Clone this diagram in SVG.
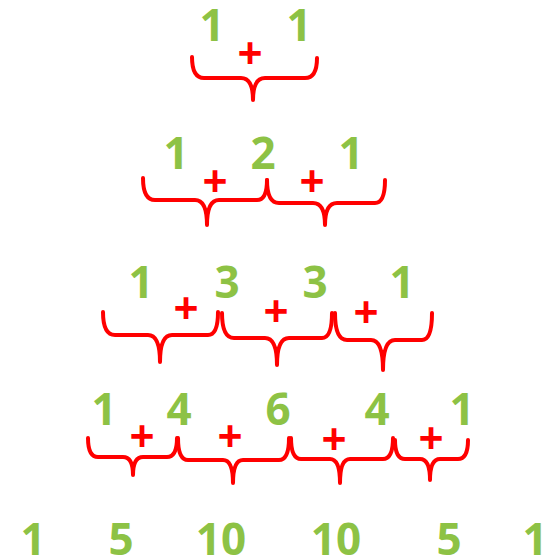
<svg xmlns="http://www.w3.org/2000/svg" width="557" height="558" viewBox="0 0 557 558">
<style>
.n{font-family:"Open Sans","Liberation Sans",sans-serif;font-weight:bold;font-size:44px;fill:#8DC245;text-anchor:middle}
.p{font-family:"Open Sans","Liberation Sans",sans-serif;font-weight:bold;font-size:44px;fill:#FF0000;text-anchor:middle}
.b{fill:none;stroke:#FF0000;stroke-width:4;stroke-linecap:round;stroke-linejoin:round}
</style>
<rect width="557" height="558" fill="#FFFFFF"/>
<g id="row1">
<text class="n" x="212" y="41">1</text>
<text class="n" x="299" y="41">1</text>
<text class="p" x="250" y="69">+</text>
</g>
<g id="row2">
<text class="n" x="176" y="169">1</text>
<text class="n" x="263" y="169">2</text>
<text class="n" x="351" y="169">1</text>
<text class="p" x="215" y="197">+</text>
<text class="p" x="312" y="197">+</text>
</g>
<g id="row3">
<text class="n" x="141" y="298">1</text>
<text class="n" x="227" y="298">3</text>
<text class="n" x="315" y="298">3</text>
<text class="n" x="402" y="298">1</text>
<text class="p" x="186" y="324">+</text>
<text class="p" x="276" y="327">+</text>
<text class="p" x="366" y="328">+</text>
</g>
<g id="row4">
<text class="n" x="104" y="425">1</text>
<text class="n" x="179" y="425">4</text>
<text class="n" x="278" y="425">6</text>
<text class="n" x="377" y="425">4</text>
<text class="n" x="462" y="425">1</text>
<text class="p" x="142" y="452">+</text>
<text class="p" x="230" y="452">+</text>
<text class="p" x="334" y="455">+</text>
<text class="p" x="431" y="454">+</text>
</g>
<g id="row5">
<text class="n" x="33" y="555">1</text>
<text class="n" x="121" y="555">5</text>
<text class="n" x="221" y="555">10</text>
<text class="n" x="336" y="555">10</text>
<text class="n" x="449" y="555">5</text>
<text class="n" x="535" y="555">1</text>
</g>
<g id="connectors">
<path class="b" d="M192 57 Q192 78 204 78 L241 78 Q253 78 253 100 Q253 78 265 78 L305 78 Q317 78 317 58"/>
<path class="b" d="M143 178 Q143 200 155 200 L195 200 Q207 200 207 225 Q207 200 219 200 L257 200 Q267 200 267 180"/>
<path class="b" d="M267 180 Q267 203 279 203 L313 203 Q325 203 325 225 Q325 203 337 203 L375 203 Q385 203 385 180"/>
<path class="b" d="M103 312 Q103 335 115 335 L148 335 Q160 335 160 362 Q160 335 172 335 L208 335 Q218 335 218 312"/>
<path class="b" d="M222 313 Q222 338 234 338 L265 338 Q277 338 277 365 Q277 338 289 338 L322 338 Q332 338 332 313"/>
<path class="b" d="M335 313 Q335 340 347 340 L371 340 Q383 340 383 370 Q383 340 395 340 L422 340 Q432 340 432 313"/>
<path class="b" d="M88 438 Q88 457 98 457 L123 457 Q133 457 133 475 Q133 457 143 457 L167 457 Q177 457 177 438"/>
<path class="b" d="M178 438 Q178 460 188 460 L223 460 Q233 460 233 483 Q233 460 243 460 L279 460 Q289 460 289 438"/>
<path class="b" d="M291 438 Q291 459 301 459 L330 459 Q340 459 340 483 Q340 459 350 459 L383 459 Q393 459 393 438"/>
<path class="b" d="M395 440 Q395 459 405 459 L420 459 Q430 459 430 480 Q430 459 440 459 L458 459 Q468 459 468 440"/>
</g>
</svg>
